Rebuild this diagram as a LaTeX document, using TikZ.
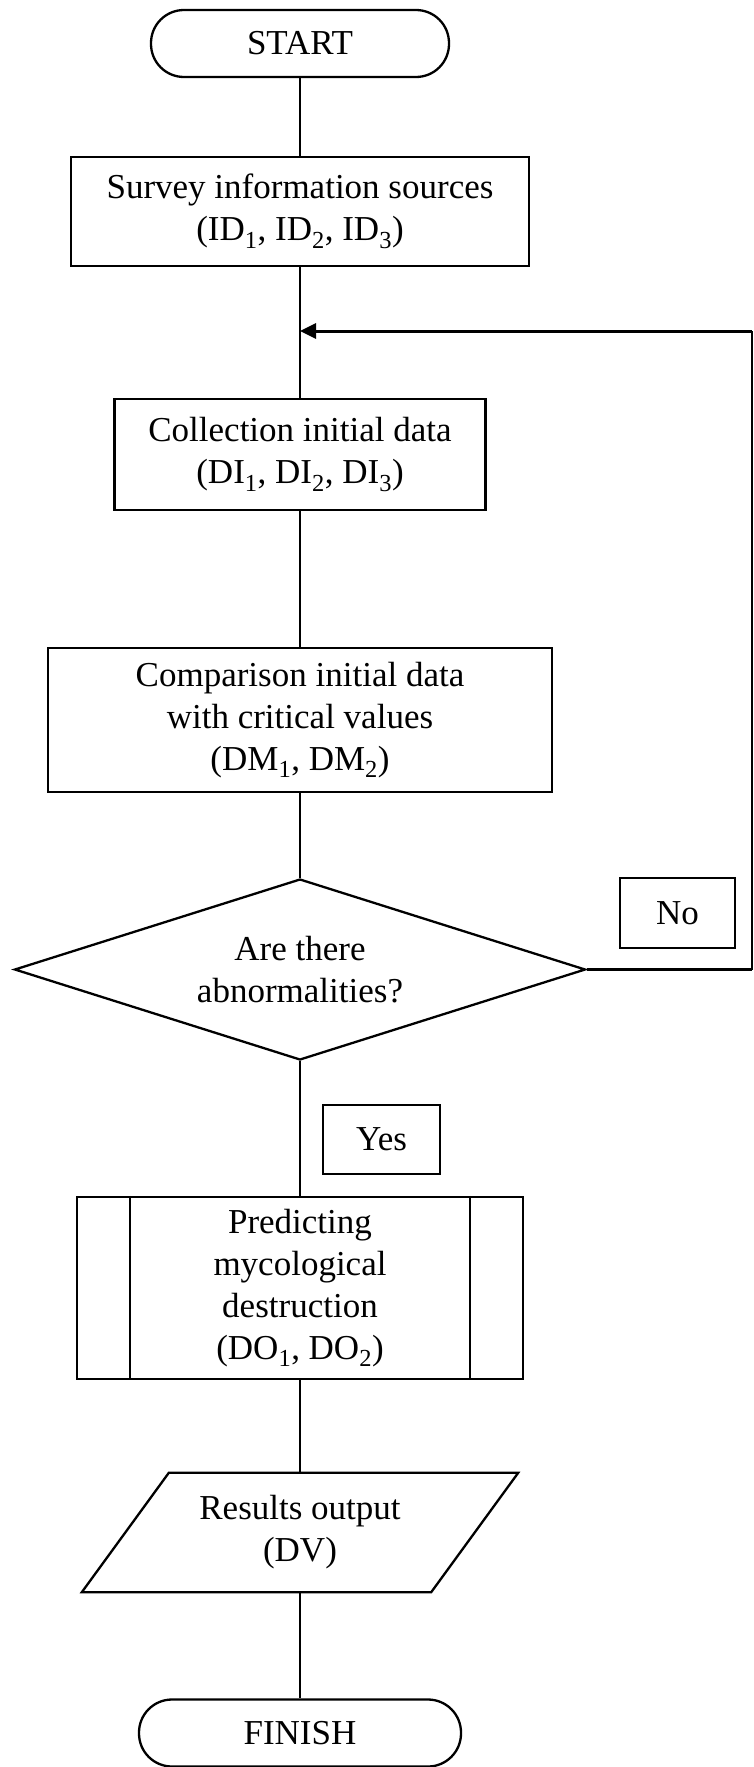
\documentclass[tikz,border=0pt]{standalone}
\usepackage{fontspec}
\setmainfont{Liberation Serif}
\usetikzlibrary{shapes.geometric,arrows.meta}
\begin{document}
\begin{tikzpicture}[x=1pt,y=-1pt,
  every node/.style={font=\fontsize{35}{42}\selectfont, align=center, inner sep=0pt},
  shapeline/.style={draw, line width=2.3pt},
  termbox/.style={shapeline, rounded corners=33pt, minimum width=#1, minimum height=67pt},
  procbox/.style args={#1/#2}{shapeline, rectangle, minimum width=#1, minimum height=#2},
  conn/.style={line width=1.8pt},
  retline/.style={line width=3pt, -{Triangle[length=16pt,width=15pt]}},
]
\useasboundingbox (0,0) rectangle (753,1767);

\node[termbox=298pt] (start) at (300,43.5) {START};
\node[procbox=458pt/109pt] (b1) at (300,211.5) {Survey information sources\\(ID\textsubscript{1}, ID\textsubscript{2}, ID\textsubscript{3})};
\node[procbox=371pt/111pt] (b2) at (300,454.5) {Collection initial data\\(DI\textsubscript{1}, DI\textsubscript{2}, DI\textsubscript{3})};
\node[procbox=504pt/144pt] (b3) at (300,720) {Comparison initial data\\with critical values\\(DM\textsubscript{1}, DM\textsubscript{2})};
\node[shapeline, diamond, aspect=3.15, minimum width=571pt, minimum height=181pt] (dec) at (300,969.5) {Are there\\abnormalities?};
\node[procbox=115pt/70pt] (no) at (677.5,913) {No};
\node[procbox=117pt/69pt] (yes) at (381.5,1139.5) {Yes};
\node[procbox=446pt/182pt] (pred) at (300,1288) {Predicting\\mycological\\destruction\\(DO\textsubscript{1}, DO\textsubscript{2})};
\node[minimum width=349pt, minimum height=119pt] (out) at (300,1532.5) {Results output\\(DV)};
\node[termbox=322pt] (fin) at (300,1733) {FINISH};

% predefined-process inner bars
\draw[line width=2.3pt] ([xshift=54pt]pred.north west) -- ([xshift=54pt]pred.south west);
\draw[line width=2.3pt] ([xshift=-54pt]pred.north east) -- ([xshift=-54pt]pred.south east);

% parallelogram
\draw[line width=2.3pt] ([xshift=43.5pt]out.north west) -- ([xshift=43.5pt]out.north east)
  -- ([xshift=-43.5pt]out.south east) -- ([xshift=-43.5pt]out.south west) -- cycle;

% connectors
\draw[conn] (start.south) -- (b1.north);
\draw[conn] (b1.south) -- (b2.north);
\draw[conn] (b2.south) -- (b3.north);
\draw[conn] (b3.south) -- (dec.north);
\draw[conn] (dec.south) -- (pred.north);
\draw[conn] (pred.south) -- (out.north);
\draw[conn] (out.south) -- (fin.north);

% return loop
\coordinate (ret) at (752,331);
\coordinate (join) at (b1.south |- ret);
\coordinate (noend) at (ret |- dec.east);
\draw[line width=2.3pt] (dec.east) -- (noend);
\draw[conn] (noend) -- (ret);
\draw[retline] (ret) -- (join);
\end{tikzpicture}
\end{document}
